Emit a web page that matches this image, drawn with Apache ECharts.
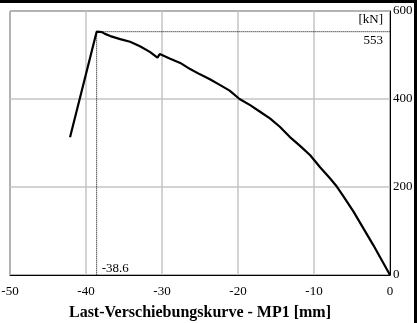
<!DOCTYPE html>
<html>
<head>
<meta charset="utf-8">
<script src="https://cdn.jsdelivr.net/npm/echarts@6/dist/echarts.min.js"></script>
<style>
html,body{margin:0;padding:0;background:#fff;}
#c{width:417px;height:323px;}
</style>
</head>
<body>
<div id="c"></div>
<script>
// Displacement (mm) and load (kN), from origin through the peak to the last point
var dispValues = [0, -1.1, -2.2, -3.5, -4.8, -6.1, -7.0, -7.9, -9.2, -10.5, -11.8, -13.2, -14.5, -15.8, -17.1, -18.4, -19.8, -21.1, -22.4, -23.7, -25.0, -26.3, -27.6, -29.0, -30.3, -30.6, -31.6, -32.9, -34.2, -35.5, -36.8, -37.5, -37.9, -38.6, -42.1];
var loadValues = [0, 34, 68, 106, 144, 178, 201, 220, 245, 272, 293, 314, 337, 356, 371, 386, 400, 419, 432, 445, 456, 468, 482, 492, 502, 494, 507, 520, 530, 536, 543, 548, 552, 553, 313];
var peakDisp = -38.6;
var peakLoad = 553;
var xTicks = [-50, -40, -30, -20, -10, 0];
var yTicks = [0, 200, 400, 600];
var xTitle = 'Last-Verschiebungskurve - MP1 [mm]';
var unitLabel = '[kN]';

var FONT = '"Liberation Serif", "DejaVu Serif", serif';
var curve = dispValues.map(function (d, i) { return [d, loadValues[i]]; });

var chart = echarts.init(document.getElementById('c'), null, {renderer: 'canvas'});
var option = {
  animation: false,
  backgroundColor: '#fff',
  grid: {left: 10, right: 27, top: 11, bottom: 48, show: true, borderColor: '#000', borderWidth: 1, backgroundColor: 'transparent', containLabel: false, outerBoundsMode: 'none'},
  xAxis: {
    type: 'value', min: xTicks[0], max: xTicks[xTicks.length - 1], interval: 10,
    axisLine: {show: true, onZero: false, lineStyle: {color: '#000', width: 1}},
    axisTick: {show: false},
    axisLabel: {color: '#000', fontFamily: FONT, fontSize: 13, margin: 10},
    splitLine: {show: true, lineStyle: {color: '#c4c4c4', width: 1.5}},
    name: xTitle, nameLocation: 'middle', nameGap: 30,
    nameTextStyle: {color: '#000', fontFamily: FONT, fontSize: 16, fontWeight: 'bold'}
  },
  yAxis: {
    type: 'value', position: 'right', min: yTicks[0], max: yTicks[yTicks.length - 1], interval: 200,
    axisLine: {show: true, lineStyle: {color: '#000', width: 1}},
    axisTick: {show: false},
    axisLabel: {color: '#000', fontFamily: FONT, fontSize: 13, margin: 3},
    splitLine: {show: true, lineStyle: {color: '#c4c4c4', width: 1.5}}
  },
  series: [
    {
      type: 'line', data: [[peakDisp, peakLoad], [0, peakLoad]], symbol: 'none', silent: true,
      lineStyle: {color: '#000', width: 1, type: [1, 1]}, z: 3
    },
    {
      type: 'line', data: [[peakDisp, peakLoad], [peakDisp, 0]], symbol: 'none', silent: true,
      lineStyle: {color: '#000', width: 1, type: [1, 1]}, z: 3
    },
    {
      type: 'line', data: curve, symbol: 'none', smooth: false,
      lineStyle: {color: '#000', width: 2.2}, z: 5
    }
  ]
};
chart.setOption(option);

var pPeakH = chart.convertToPixel({gridIndex: 0}, [0, peakLoad]);
var pPeakV = chart.convertToPixel({gridIndex: 0}, [peakDisp, 0]);
var pTop = chart.convertToPixel({gridIndex: 0}, [0, yTicks[yTicks.length - 1]]);

chart.setOption({
  graphic: [
    {type: 'rect', shape: {x: 0, y: 0, width: 417, height: 3}, style: {fill: '#000'}, z: 100},
    {type: 'rect', shape: {x: 414, y: 0, width: 3, height: 323}, style: {fill: '#000'}, z: 100},
    {type: 'text', x: pTop[0] - 7, y: pTop[1] + 9, style: {text: unitLabel, fill: '#000', font: '13px ' + FONT, align: 'right', verticalAlign: 'middle'}, z: 50},
    {type: 'text', x: pPeakH[0] - 7, y: pPeakH[1] + 9, style: {text: String(peakLoad), fill: '#000', font: '13px ' + FONT, align: 'right', verticalAlign: 'middle'}, z: 50},
    {type: 'text', x: pPeakV[0] + 5, y: pPeakV[1] - 6, style: {text: String(peakDisp), fill: '#000', font: '13px ' + FONT, align: 'left', verticalAlign: 'middle'}, z: 50}
  ]
});
</script>
</body>
</html>
